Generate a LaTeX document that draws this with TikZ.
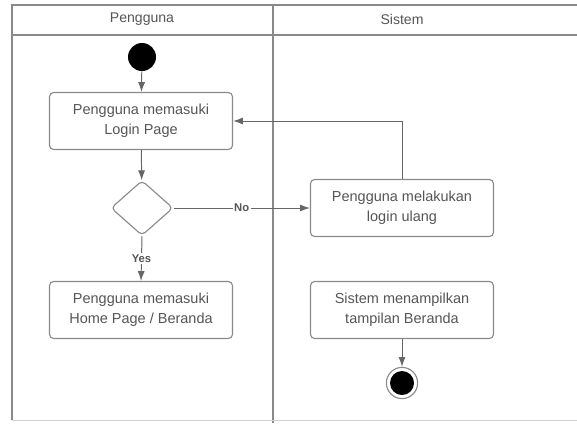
\documentclass[tikz,border=0pt]{standalone}
\usepackage{fontspec}
\setmainfont{Liberation Sans}
\usetikzlibrary{shapes.geometric,arrows.meta}

\definecolor{linegray}{HTML}{8A8A8A}
\definecolor{textgray}{HTML}{555555}

\tikzstyle{activity}=[rectangle,rounded corners=3pt,draw=linegray,line width=0.8pt,minimum width=4.575cm,minimum height=1.425cm,align=center,text=textgray,font=\fontsize{10.3}{14}\selectfont]
\tikzstyle{decision}=[diamond,rounded corners=3pt,draw=linegray,line width=0.8pt,minimum width=1.55cm,minimum height=1.375cm,inner sep=0pt]
\tikzstyle{startnode}=[circle,fill=black,minimum size=0.7cm,inner sep=0pt]
\tikzstyle{endnode}=[circle,draw=linegray,line width=0.8pt,fill=white,minimum size=0.78cm,inner sep=0pt]
\tikzstyle{flow}=[draw=textgray!90,line width=0.7pt,-{Latex[length=7pt,width=5pt]}]
\tikzstyle{guard}=[fill=white,inner sep=1pt,text=textgray,font=\fontsize{8}{9}\selectfont\bfseries]
\tikzstyle{lanetitle}=[text=textgray,font=\fontsize{10}{12}\selectfont]

\begin{document}
\begin{tikzpicture}[x=0.025cm, y=-0.025cm]
	\useasboundingbox (0,0) rectangle (577,423);
	% swimlanes
	\draw [linegray,line width=0.8pt] (12,420) -- (12,5) -- (585,5);
	\draw [linegray,line width=0.8pt] (12,35) -- (585,35);
	\draw [linegray,line width=0.8pt] (273,5) -- (273,423);
	\draw [linegray!40,line width=0.6pt] (12,420) -- (585,420);
	\node [lanetitle] (lane1) at (142,19) {Pengguna};
	\node [lanetitle] (lane2) at (402,19) {Sistem};

	\node [startnode] (start)   at (142,57)  {};
	\node [activity]  (login)   at (141,121) {Pengguna memasuki\\Login Page};
	\node [decision]  (check)   at (142,208) {};
	\node [activity]  (relogin) at (402,208) {Pengguna melakukan\\login ulang};
	\node [activity]  (home)    at (141,310) {Pengguna memasuki\\Home Page / Beranda};
	\node [activity]  (show)    at (402,310) {Sistem menampilkan\\tampilan Beranda};
	\node [endnode]   (finish)  at (402,383) {};
	\node [startnode,minimum size=0.6cm] (finishdot) at (402,383) {};

	\draw [flow] (start) -- (login);
	\draw [flow] (login) -- (check);
	\draw [flow] (check.east) -- node[guard] {No} (relogin.west);
	\draw [flow] (check.south) -- node[guard] {Yes} (home.north);
	\draw [flow] (relogin.north) |- (login.east);
	\draw [flow] (show) -- (finish);
\end{tikzpicture}
\end{document}
